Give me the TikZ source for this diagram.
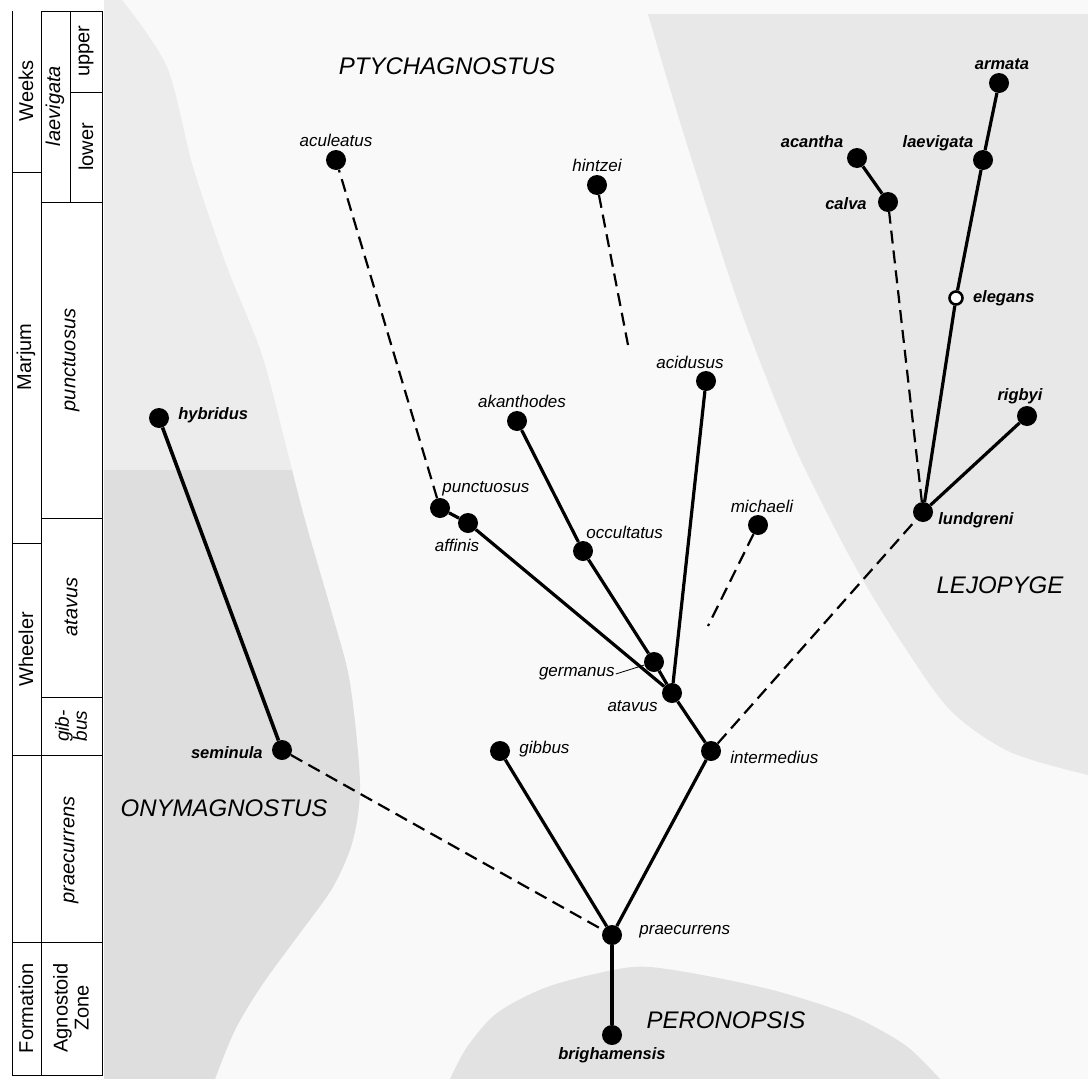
\documentclass[tikz,border=0pt]{standalone}
\usepackage{fontspec}
\setmainfont{Liberation Sans}
\usetikzlibrary{positioning}

\definecolor{paper}{gray}{0.975}
\definecolor{onyupper}{gray}{0.925}
\definecolor{onylower}{gray}{0.87}
\definecolor{lejo}{gray}{0.91}
\definecolor{pero}{gray}{0.885}

\tikzset{
  dot/.style={circle, fill=black, inner sep=0pt, minimum size=20pt},
  hollow/.style={circle, draw=black, fill=white, line width=2.6pt, inner sep=0pt, minimum size=13pt},
  lbl/.style={font=\fontsize{17}{19}\selectfont\itshape, inner sep=1pt},
  blbl/.style={font=\fontsize{16.5}{19}\selectfont\bfseries\itshape, inner sep=1pt},
  genus/.style={font=\fontsize{24}{28}\selectfont\itshape, inner sep=0pt},
  branch/.style={line width=3.2pt},
  link/.style={line width=2.2pt, dash pattern=on 13pt off 7pt},
  col/.style={line width=1pt},
  coltext/.style={font=\fontsize{20}{23}\selectfont, rotate=90, align=center, inner sep=0pt},
  zonetext/.style={coltext, font=\fontsize{20}{22}\selectfont\itshape},
}

\begin{document}
\begin{tikzpicture}[x=1pt, y=-1pt]
  \useasboundingbox (0,0) rectangle (1088,1079);
  \fill[paper] (0,0) rectangle (1088,1079);
  \fill[white] (0,0) rectangle (104,1079);

  % shaded genus fields
  \begin{scope}
    \clip (104,0) -- plot[smooth] coordinates {(122,0) (167,67) (193,167) (227,267) (262,355) (287,450) (305,520) (333,617) (350,683) (360,783) (353,840) (333,887) (300,933) (262,985) (235,1030) (215,1079)} -- (104,1079) -- cycle;
    \fill[onyupper] (100,0) rectangle (400,470);
    \fill[onylower] (100,470) rectangle (400,1079);
  \end{scope}
  \fill[lejo] (1088,14) -- plot[smooth] coordinates {(648,14) (662,62) (690,154) (740,308) (790,436) (827,513) (860,575) (900,640) (950,710) (1010,752) (1088,775)} -- cycle;
  \fill[pero] plot[smooth] coordinates {(450,1079) (467,1047) (497,1013) (547,987) (613,970) (650,967) (713,977) (780,992) (850,1015) (905,1045) (940,1079)} -- cycle;

  % stratigraphic column
  \draw[col] (12,11) -- (12,1075) -- (102,1075) -- (102,11) -- (41,11) -- (41,1075);
  \draw[col] (70,11) -- (70,202);
  \draw[col] (70,92) -- (102,92);
  \draw[col] (41,202) -- (102,202);
  \draw[col] (12,172) -- (41,172);
  \draw[col] (41,518) -- (102,518);
  \draw[col] (12,543) -- (41,543);
  \draw[col] (41,697) -- (102,697);
  \draw[col] (12,755) -- (102,755);
  \draw[col] (12,942) -- (102,942);

  \node[coltext] (weeks) at (26,91) {Weeks};
  \node[coltext] (marjum) at (26,357) {Marjum};
  \node[coltext] (wheeler) at (26,649) {Wheeler};
  \node[coltext] (formation) at (26,1008) {Formation};
  \node[zonetext] (laevigatazone) at (55,106) {laevigata};
  \node[coltext] (upper) at (86,51) {upper};
  \node[coltext] (lower) at (86,147) {lower};
  \node[zonetext] (punctuosuszone) at (71,360) {punctuosus};
  \node[zonetext] (atavuszone) at (71,607) {atavus};
  \node[zonetext, font=\fontsize{19}{18}\selectfont\itshape] (gibbuszone) at (71,726) {gib-\\bus};
  \node[zonetext] (praecurrenszone) at (71,850) {praecurrens};
  \node[coltext, font=\fontsize{20}{21}\selectfont] (zonehead) at (71,1008) {Agnostoid\\Zone};

  % genus names
  \node[genus] (ptychagnostus) at (447,66) {PTYCHAGNOSTUS};
  \node[genus] (onymagnostus) at (224,808) {ONYMAGNOSTUS};
  \node[genus] (lejopyge) at (1000,585) {LEJOPYGE};
  \node[genus] (peronopsis) at (726,1020) {PERONOPSIS};

  % species
  \node[dot] (aculeatus) at (336,160) {};
  \node[dot] (hintzei) at (597,185) {};
  \node[dot] (acidusus) at (706,381) {};
  \node[dot] (akanthodes) at (517,421) {};
  \node[dot] (punctuosus) at (440,508) {};
  \node[dot] (affinis) at (468,523) {};
  \node[dot] (occultatus) at (583,551) {};
  \node[dot] (michaeli) at (758,525) {};
  \node[dot] (germanus) at (654,662) {};
  \node[dot] (atavus) at (672,693) {};
  \node[dot] (intermedius) at (711,751) {};
  \node[dot] (gibbus) at (500,751) {};
  \node[dot] (seminula) at (282,750) {};
  \node[dot] (hybridus) at (159,418) {};
  \node[dot] (praecurrens) at (612,935) {};
  \node[dot] (brighamensis) at (612,1035) {};
  \node[dot] (lundgreni) at (923,512) {};
  \node[dot] (rigbyi) at (1027,416) {};
  \node[hollow] (elegans) at (956,298) {};
  \node[dot] (laevigata) at (983,160) {};
  \node[dot] (armata) at (999,83) {};
  \node[dot] (acantha) at (857,158) {};
  \node[dot] (calva) at (888,202) {};
  \coordinate (hintzei-end) at (628,345);
  \coordinate (michaeli-end) at (708,626);

  % names of species
  \node[lbl, above=2pt of aculeatus] (aculeatus-t) {aculeatus};
  \node[lbl, above=2pt of hintzei] (hintzei-t) {hintzei};
  \node[lbl, above=1pt of acidusus, xshift=-16pt] (acidusus-t) {acidusus};
  \node[lbl, above=2pt of akanthodes, xshift=5pt] (akanthodes-t) {akanthodes};
  \node[lbl, above right=4pt and -6pt of punctuosus] (punctuosus-t) {punctuosus};
  \node[lbl, below=5pt of affinis, xshift=-11pt] (affinis-t) {affinis};
  \node[lbl, above right=4pt and -5pt of occultatus] (occultatus-t) {occultatus};
  \node[lbl, above=1pt of michaeli, xshift=4pt] (michaeli-t) {michaeli};
  \node[lbl, left=28pt of germanus, yshift=-12pt] (germanus-t) {germanus};
  \node[lbl, below left=-1pt and 6pt of atavus] (atavus-t) {atavus};
  \node[lbl, right=8pt of intermedius, yshift=-6pt] (intermedius-t) {intermedius};
  \node[lbl, right=8pt of gibbus, yshift=2pt] (gibbus-t) {gibbus};
  \node[lbl, right=16pt of praecurrens, yshift=3pt] (praecurrens-t) {praecurrens};
  \node[blbl, left=8pt of seminula, yshift=-3pt] (seminula-t) {seminula};
  \node[blbl, right=8pt of hybridus, yshift=3pt] (hybridus-t) {hybridus};
  \node[blbl, below=1pt of brighamensis] (brighamensis-t) {brighamensis};
  \node[blbl, right=4pt of lundgreni, yshift=-8pt] (lundgreni-t) {lundgreni};
  \node[blbl, above=1pt of rigbyi, xshift=-7pt] (rigbyi-t) {rigbyi};
  \node[blbl, right=8pt of elegans] (elegans-t) {elegans};
  \node[blbl, above=-2pt of laevigata, xshift=-45pt] (laevigata-t) {laevigata};
  \node[blbl, above=2pt of armata, xshift=3pt] (armata-t) {armata};
  \node[blbl, above=-1pt of acantha, xshift=-45pt] (acantha-t) {acantha};
  \node[blbl, left=10pt of calva, yshift=-2pt] (calva-t) {calva};

  \draw[line width=0.8pt] (germanus-t.east) -- (germanus);

  % branches
  \draw[branch, line width=3.6pt] (hybridus) -- (seminula);
  \draw[branch, line width=3.6pt] (praecurrens) -- (brighamensis);
  \draw[branch] (praecurrens) -- (gibbus);
  \draw[branch] (praecurrens) -- (intermedius);
  \draw[branch] (intermedius) -- (atavus);
  \draw[branch] (atavus) -- (acidusus);
  \draw[branch] (atavus) -- (germanus);
  \draw[branch] (germanus) -- (occultatus);
  \draw[branch] (occultatus) -- (akanthodes);
  \draw[branch] (atavus) -- (affinis);
  \draw[branch] (affinis) -- (punctuosus);
  \draw[branch] (lundgreni) -- (rigbyi);
  \draw[branch] (lundgreni) -- (elegans);
  \draw[branch] (elegans) -- (laevigata);
  \draw[branch] (laevigata) -- (armata);
  \draw[branch] (calva) -- (acantha);

  % uncertain links
  \draw[link] (seminula) -- (praecurrens);
  \draw[link] (intermedius) -- (lundgreni);
  \draw[link] (lundgreni) -- (calva);
  \draw[link] (punctuosus) -- (aculeatus);
  \draw[link] (hintzei) -- (hintzei-end);
  \draw[link] (michaeli) -- (michaeli-end);
\end{tikzpicture}
\end{document}
